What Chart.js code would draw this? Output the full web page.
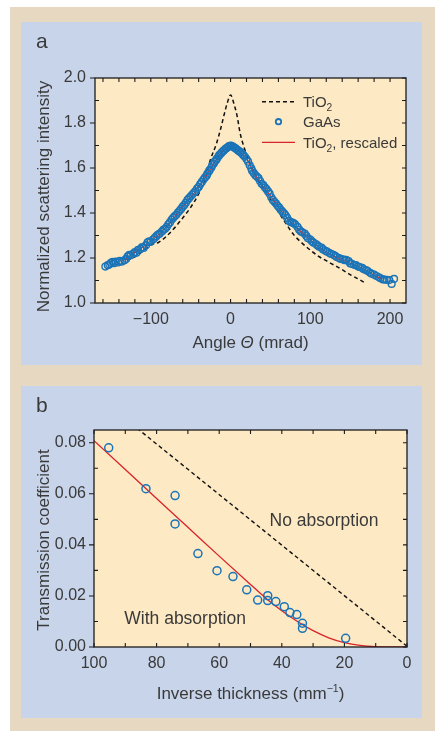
<!DOCTYPE html>
<html><head><meta charset="utf-8">
<script src="https://cdn.jsdelivr.net/npm/chart.js@4.4.0/dist/chart.umd.min.js"></script>
<style>
html,body{margin:0;padding:0;background:#fff;}
body{width:435px;height:731px;position:relative;overflow:hidden;font-family:"Liberation Sans",Arial,sans-serif;}
#frame{position:absolute;left:10px;top:7px;width:425px;height:724px;background:#e7d8c2;}
.panel{position:absolute;left:21px;width:401px;background:#c7d4ea;}
#pa{top:22px;height:343px;}
#pb{top:386px;height:332px;}
.plabel{position:absolute;left:15px;top:8px;font-size:21px;line-height:21px;color:#3a3a3a;z-index:2;}
canvas{position:absolute;left:0;top:0;}
</style></head>
<body>
<div id="frame"></div>
<div class="panel" id="pa"><div class="plabel">a</div><canvas id="ca" width="401" height="343"></canvas></div>
<div class="panel" id="pb"><div class="plabel">b</div><canvas id="cb" width="401" height="332"></canvas></div>
<script>
// ---------- Panel a data ----------
const tio2Angle = [-130,-120,-110,-100,-90,-80,-70,-60,-50,-40,-32,-25,-18,-12,-8,-4,0,4,8,12,18,23,30,40,50,60,70,80,90,100,110,120,130,140,150,160,169];
const tio2Value = [1.190,1.205,1.230,1.258,1.270,1.298,1.335,1.378,1.425,1.485,1.550,1.640,1.705,1.780,1.838,1.890,1.925,1.888,1.835,1.755,1.680,1.630,1.575,1.515,1.460,1.405,1.350,1.300,1.265,1.235,1.208,1.188,1.168,1.148,1.126,1.107,1.089];

const gaasAngle = [-157,-154,-152,-150,-148,-146,-144,-141,-139,-136,-133,-131,-129,-127,-125,-122,-120,-118,-116,-113,-111,-109,-106,-104,-102,-100,-97,-95,-93,-91,-89,-86,-84,-82,-80,-78,-76,-74,-72,-70,-68,-66,-64,-62,-60,-58,-56,-54,-52,-50,-48,-46,-44,-42,-40,-38,-36,-34,-32,-30,-29,-27,-26,-24,-23,-21,-20,-18,-17,-15,-14,-12,-11,-9,-8,-6,-5,-3,-2,0,1,3,4,6,7,9,10,12,13,15,16,18,20,22,24,26,27,29,31,33,35,37,39,41,43,45,47,49,51,53,55,57,59,61,63,65,67,69,71,73,75,77,79,81,84,86,88,90,93,95,97,100,102,104,107,109,111,114,116,119,121,124,126,129,131,133,136,138,141,143,145,148,150,152,155,157,160,162,165,167,170,172,175,177,180,183,186,188,191,193,196,199,202,205];
const gaasValue = [1.162,1.168,1.171,1.178,1.183,1.177,1.184,1.180,1.187,1.184,1.190,1.196,1.207,1.214,1.212,1.220,1.226,1.223,1.236,1.240,1.248,1.245,1.257,1.270,1.274,1.272,1.283,1.290,1.297,1.304,1.308,1.318,1.326,1.330,1.338,1.350,1.358,1.370,1.378,1.386,1.392,1.402,1.410,1.418,1.428,1.436,1.446,1.458,1.466,1.474,1.482,1.490,1.497,1.508,1.516,1.528,1.538,1.549,1.558,1.566,1.575,1.586,1.592,1.602,1.612,1.620,1.628,1.636,1.642,1.652,1.658,1.664,1.670,1.676,1.680,1.686,1.689,1.693,1.697,1.700,1.698,1.695,1.692,1.688,1.684,1.680,1.676,1.672,1.668,1.662,1.657,1.650,1.640,1.628,1.612,1.598,1.588,1.578,1.568,1.562,1.555,1.542,1.530,1.524,1.514,1.506,1.496,1.486,1.470,1.458,1.450,1.442,1.432,1.424,1.414,1.406,1.398,1.390,1.378,1.366,1.360,1.358,1.355,1.350,1.338,1.326,1.318,1.314,1.308,1.298,1.288,1.282,1.274,1.268,1.262,1.256,1.250,1.246,1.238,1.232,1.228,1.222,1.218,1.214,1.210,1.204,1.200,1.196,1.194,1.190,1.192,1.186,1.176,1.174,1.170,1.168,1.162,1.160,1.156,1.150,1.146,1.142,1.134,1.130,1.126,1.120,1.114,1.110,1.105,1.104,1.103,1.102,1.085,1.107];

const rescaledAngle = [-135,-120,-105,-90,-75,-60,-45,-30,-20,-10,-4,0,4,10,20,30,40,50,60,75,90,105,120,135,150,165,180,190];
const rescaledValue = [1.188,1.225,1.262,1.305,1.360,1.428,1.492,1.568,1.626,1.674,1.692,1.700,1.693,1.676,1.642,1.575,1.522,1.476,1.426,1.360,1.312,1.265,1.228,1.200,1.176,1.150,1.124,1.106];

const aXTicks = [-160,-140,-120,-100,-80,-60,-40,-20,0,20,40,60,80,100,120,140,160,180,200];
const aXLabels = [-100,0,100,200];
const aYTicks = [1.0,1.1,1.2,1.3,1.4,1.5,1.6,1.7,1.8,1.9,2.0];
const aYLabels = [1.0,1.2,1.4,1.6,1.8,2.0];

// ---------- Panel b data ----------
const thickInv = [95.3,83.4,74.1,74.1,66.8,60.7,55.6,51.2,47.7,44.5,44.5,41.9,39.2,37.4,35.2,33.4,33.4,19.6];
const transCoef = [0.0780,0.0620,0.0593,0.0482,0.0366,0.0299,0.0276,0.0224,0.0184,0.0201,0.0182,0.0178,0.0158,0.0135,0.0127,0.0093,0.0073,0.0034];
const withAbsX = [100,90,80,70,60,50,45,40,35,30,25,20,15,10,5,0];
const withAbsY = [0.0808,0.0695,0.0582,0.0469,0.0356,0.0245,0.0190,0.0142,0.0100,0.0064,0.0036,0.0017,0.0006,0.0001,0.0,0.0];
const noAbsX = [0,100];
const noAbsY = [0.0003,0.0993];

const bXTicks = [0,10,20,30,40,50,60,70,80,90,100];
const bXLabels = [0,20,40,60,80,100];
const bYTicks = [0,0.01,0.02,0.03,0.04,0.05,0.06,0.07,0.08];
const bYLabels = [0,0.02,0.04,0.06,0.08];

// ---------- styling ----------
const FAM = '"Liberation Sans", Arial, sans-serif';
const TXT = '#3a3a3a';
const PLOTBG = '#fde9c4';
const BLUE = '#1a74b8';
const RED = '#d9232b';

function pts(xs, ys){ return xs.map((x,i)=>({x, y: ys[i]})); }
function near(list, v){ return list.some(l => Math.abs(l - v) < 1e-9); }

function richParts(str, size){
  const parts=[]; let buf='';
  for (const ch of str){
    if (ch==='\u2082'){ if(buf) parts.push({t:buf,size}); buf=''; parts.push({t:'2', size:size*0.68, dy:size*0.28}); }
    else buf+=ch;
  }
  if(buf) parts.push({t:buf,size});
  return parts;
}
function drawRich(ctx, parts, x, y, align, color){
  let w=0;
  parts.forEach(p=>{ ctx.font=(p.italic?'italic ':'')+p.size+'px '+FAM; p.w=ctx.measureText(p.t).width; w+=p.w; });
  let cx = align==='center' ? x - w/2 : x;
  ctx.fillStyle=color; ctx.textAlign='left'; ctx.textBaseline='alphabetic';
  parts.forEach(p=>{ ctx.font=(p.italic?'italic ':'')+p.size+'px '+FAM; ctx.fillText(p.t, cx, y+(p.dy||0)); cx+=p.w; });
}

const frameTicks = {
  id:'frameTicks',
  beforeDatasetsDraw(chart){
    const {ctx, chartArea:ca} = chart;
    ctx.save(); ctx.fillStyle = PLOTBG; ctx.fillRect(ca.left, ca.top, ca.width, ca.height); ctx.restore();
  },
  afterDraw(chart, args, opts){
    const {ctx, chartArea:ca} = chart;
    const xs = chart.scales.x, ys = chart.scales.y;
    ctx.save();
    ctx.strokeStyle = '#1c1c1c';
    ctx.lineWidth = 1.3;
    ctx.strokeRect(ca.left, ca.top, ca.width, ca.height);
    ctx.lineWidth = 1.1;
    ctx.beginPath();
    const L = 4;
    xs.ticks.forEach(t=>{
      const px = xs.getPixelForValue(t.value);
      ctx.moveTo(px, ca.bottom); ctx.lineTo(px, ca.bottom - L);
      ctx.moveTo(px, ca.top); ctx.lineTo(px, ca.top + L);
    });
    ys.ticks.forEach(t=>{
      const py = ys.getPixelForValue(t.value);
      if (t.label !== '') { ctx.moveTo(ca.left, py); ctx.lineTo(ca.left - 5, py); }
      else { ctx.moveTo(ca.left, py); ctx.lineTo(ca.left + L, py); }
      ctx.moveTo(ca.right, py); ctx.lineTo(ca.right - L, py);
    });
    ctx.stroke();
    // axis titles
    const cxm = (ca.left + ca.right)/2;
    drawRich(ctx, opts.xTitle, cxm, ca.bottom + opts.xTitleDy, 'center', TXT);
    ctx.save();
    ctx.translate(opts.yTitleX, opts.yTitleY);
    ctx.rotate(-Math.PI/2);
    drawRich(ctx, opts.yTitle, 0, 0, 'center', TXT);
    ctx.restore();
    ctx.restore();
  }
};

const legendA = {
  id:'legendA',
  afterDraw(chart, args, opts){
    if (!opts.show) return;
    const {ctx, chartArea:ca} = chart;
    const ds = chart.data.datasets;
    const rows = [ds[0], ds[1], ds[2]];
    const x0 = ca.left + 167, x1 = ca.left + 200, tx = ca.left + 208;
    const ys = [ca.top + 23.7, ca.top + 43.7, ca.top + 64.3];
    ctx.save();
    rows.forEach((d,i)=>{
      const y = ys[i];
      if (d.showLine) {
        ctx.strokeStyle = d.borderColor; ctx.lineWidth = d.borderWidth;
        ctx.setLineDash(d.borderDash || []);
        ctx.beginPath(); ctx.moveTo(x0, y); ctx.lineTo(x1, y); ctx.stroke();
        ctx.setLineDash([]);
      } else {
        ctx.strokeStyle = d.borderColor; ctx.lineWidth = 1.8;
        ctx.beginPath(); ctx.arc((x0+x1)/2, y, 2.7, 0, Math.PI*2); ctx.stroke();
      }
      drawRich(ctx, richParts(d.label, 15), tx, y + 5.3, 'left', TXT);
    });
    ctx.restore();
  }
};

const notesB = {
  id:'notesB',
  afterDatasetsDraw(chart, args, opts){
    if (!opts.notes) return;
    const {ctx} = chart;
    const xs = chart.scales.x, ys = chart.scales.y;
    ctx.save();
    ctx.fillStyle = TXT; ctx.font = '17.5px ' + FAM; ctx.textAlign='center'; ctx.textBaseline='middle';
    opts.notes.forEach(n=> ctx.fillText(n.text, xs.getPixelForValue(n.x), ys.getPixelForValue(n.y)));
    ctx.restore();
  }
};

Chart.register(frameTicks, legendA, notesB);

function fmtA(v){ return v < 0 ? '\u2212' + Math.abs(v) : String(v); }

const tickFont = {family: FAM, size: 16};

new Chart(document.getElementById('ca'), {
  type:'scatter',
  data:{ datasets:[
    {label:'TiO\u2082', data: pts(tio2Angle, tio2Value), showLine:true, pointRadius:0, borderColor:'#111', borderWidth:1.5, borderDash:[4,3], cubicInterpolationMode:'monotone', order:2},
    {label:'GaAs', data: pts(gaasAngle, gaasValue), showLine:false, pointRadius:3.4, pointBorderWidth:1.4, borderColor:BLUE, backgroundColor:'rgba(0,0,0,0)', pointBackgroundColor:'rgba(0,0,0,0)', order:0},
    {label:'TiO\u2082, rescaled', data: pts(rescaledAngle, rescaledValue), showLine:true, pointRadius:0, borderColor:RED, borderWidth:1.3, cubicInterpolationMode:'monotone', order:1}
  ]},
  options:{
    responsive:false, animation:false, devicePixelRatio:1, events:[],
    layout:{padding:{left:0, top:56, right:16, bottom:0}},
    plugins:{
      legend:{display:false}, tooltip:{enabled:false},
      legendA:{show:true},
      frameTicks:{
        xTitle:[{t:'Angle ', size:17},{t:'\u0398', size:17, italic:true},{t:' (mrad)', size:17}],
        xTitleDy:45,
        yTitle:[{t:'Normalized scattering intensity', size:17}],
        yTitleX:27.5, yTitleY:174.5
      }
    },
    scales:{
      x:{type:'linear', min:-170, max:220,
        grid:{display:false, drawTicks:false}, border:{display:false},
        afterBuildTicks: s => { s.ticks = aXTicks.map(v=>({value:v})); },
        afterFit: s => { s.height = 62; },
        ticks:{callback: v => near(aXLabels, v) ? fmtA(v) : '', font:tickFont, color:TXT, padding:7, maxRotation:0, autoSkip:false}
      },
      y:{type:'linear', min:1.0, max:2.0,
        grid:{display:false, drawTicks:false}, border:{display:false},
        afterBuildTicks: s => { s.ticks = aYTicks.map(v=>({value:v})); },
        afterFit: s => { s.width = 74; },
        ticks:{callback: v => near(aYLabels, v) ? v.toFixed(1) : '', font:tickFont, color:TXT, padding:9, autoSkip:false}
      }
    }
  }
});

new Chart(document.getElementById('cb'), {
  type:'scatter',
  data:{ datasets:[
    {label:'No absorption', data: pts(noAbsX, noAbsY), showLine:true, pointRadius:0, borderColor:'#111', borderWidth:1.4, borderDash:[4,3], order:2},
    {label:'GaAs', data: pts(thickInv, transCoef), showLine:false, pointRadius:4, pointBorderWidth:1.5, borderColor:BLUE, backgroundColor:'rgba(0,0,0,0)', pointBackgroundColor:'rgba(0,0,0,0)', order:0},
    {label:'With absorption', data: pts(withAbsX, withAbsY), showLine:true, pointRadius:0, borderColor:RED, borderWidth:1.3, cubicInterpolationMode:'monotone', order:1}
  ]},
  options:{
    responsive:false, animation:false, devicePixelRatio:1, events:[],
    layout:{padding:{left:0, top:44, right:15, bottom:0}},
    plugins:{
      legend:{display:false}, tooltip:{enabled:false},
      legendA:{show:false},
      notesB:{notes:[{text:'No absorption', x:26.5, y:0.0494},{text:'With absorption', x:70.9, y:0.0110}]},
      frameTicks:{
        xTitle:[{t:'Inverse thickness (mm', size:17},{t:'\u22121', size:10.5, dy:-7},{t:')', size:17}],
        xTitleDy:52,
        yTitle:[{t:'Transmission coefficient', size:17}],
        yTitleX:27.5, yTitleY:154
      }
    },
    scales:{
      x:{type:'linear', min:0, max:100, reverse:true,
        grid:{display:false, drawTicks:false}, border:{display:false},
        afterBuildTicks: s => { s.ticks = bXTicks.map(v=>({value:v})); },
        afterFit: s => { s.height = 71; },
        ticks:{callback: v => near(bXLabels, v) ? String(v) : '', font:tickFont, color:TXT, padding:7, maxRotation:0, autoSkip:false}
      },
      y:{type:'linear', min:0, max:0.085,
        grid:{display:false, drawTicks:false}, border:{display:false},
        afterBuildTicks: s => { s.ticks = bYTicks.map(v=>({value:v})); },
        afterFit: s => { s.width = 73; },
        ticks:{callback: v => near(bYLabels, v) ? v.toFixed(2) : '', font:tickFont, color:TXT, padding:8, autoSkip:false}
      }
    }
  }
});
</script>
</body></html>
